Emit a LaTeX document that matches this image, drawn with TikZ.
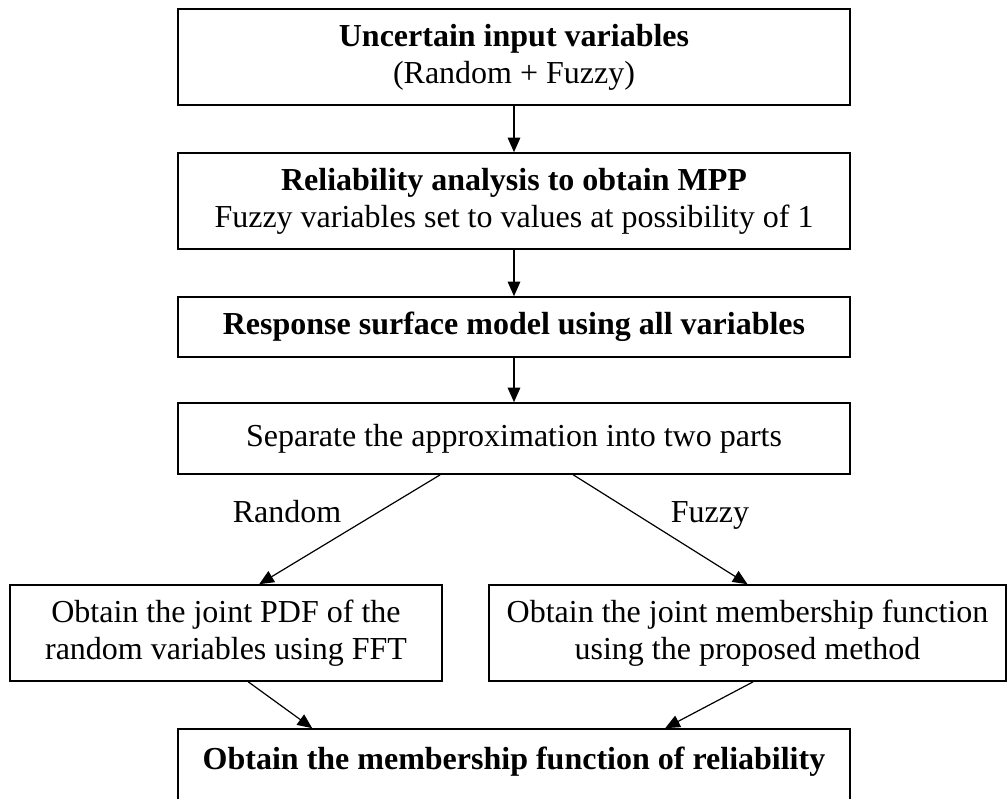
\documentclass[tikz,border=0pt]{standalone}
\usepackage{fontspec}
\setmainfont{Liberation Serif}
\usetikzlibrary{calc,arrows.meta}
\tikzset{
  box/.style={draw, line width=1.2pt, inner sep=0pt, align=center,
    font=\fontsize{24pt}{27.75pt}\selectfont},
  conn/.style={line width=0.9pt, -{Triangle[length=11pt,width=9.5pt]}},
  lbl/.style={inner sep=0pt, anchor=base, font=\fontsize{24pt}{27.75pt}\selectfont}
}
\begin{document}
\begin{tikzpicture}[x=0.75pt,y=-0.75pt]
\useasboundingbox (0,0) rectangle (1008,799);
\clip (0,0) rectangle (1008,799);
\node[box, minimum width=672*0.75pt, minimum height=96*0.75pt] (b1) at (514,57)
  {\textbf{Uncertain input variables}\\(Random + Fuzzy)};
\node[box, minimum width=672*0.75pt, minimum height=96*0.75pt] (b2) at (514,201)
  {\textbf{Reliability analysis to obtain MPP}\\Fuzzy variables set to values at possibility of 1};
\node[box, minimum width=672*0.75pt, minimum height=60*0.75pt] (b3) at (514,327)
  {\textbf{Response surface model using all variables}};
\node[box, minimum width=672*0.75pt, minimum height=71*0.75pt] (b4) at (514,438.5)
  {Separate the approximation into two parts};
\node[box, minimum width=432*0.75pt, minimum height=96*0.75pt] (b5) at (226,633)
  {Obtain the joint PDF of the\\random variables using FFT};
\node[box, minimum width=517*0.75pt, minimum height=96*0.75pt] (b6) at (747.5,633)
  {Obtain the joint membership function\\using the proposed method};
\node[box, minimum width=672*0.75pt, minimum height=96*0.75pt] (b7) at (514,777)
  {\textbf{Obtain the membership function of reliability}\\\mbox{}};
\node[lbl] (lr) at (287,522) {Random};
\node[lbl] (lf) at (710,522) {Fuzzy};
\draw[conn] (b1.south) -- (b2.north);
\draw[conn] (b2.south) -- (b3.north);
\draw[conn] (b3.south) -- (b4.north);
\draw[conn] ($(b4.south west)+(263,0)$) -- ($(b5.north west)+(250,0)$);
\draw[conn] ($(b4.south west)+(396,0)$) -- (b6.north);
\draw[conn] ($(b5.south west)+(239,0)$) -- ($(b7.north west)+(135,0)$);
\draw[conn] ($(b6.south west)+(265,0)$) -- ($(b7.north west)+(488,0)$);
\end{tikzpicture}
\end{document}
